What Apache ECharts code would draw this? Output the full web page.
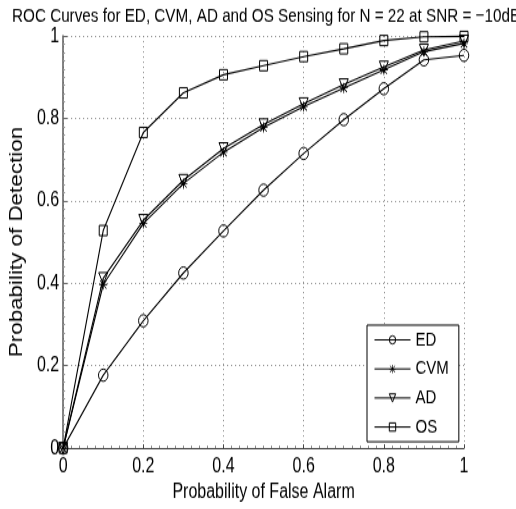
<!DOCTYPE html>
<html>
<head>
<meta charset="utf-8">
<script src="https://cdn.jsdelivr.net/npm/echarts@6/dist/echarts.min.js"></script>
<style>
html,body{margin:0;padding:0;background:#fff;overflow:hidden}
#wrap{width:516px;height:509px;overflow:hidden;position:relative}
#c{width:516px;height:397.66px;transform:scale(1,1.28);transform-origin:0 0}
</style>
</head>
<body>
<div id="wrap"><div id="c"></div></div>
<script>
var pfa = [0, 0.1, 0.2, 0.3, 0.4, 0.5, 0.6, 0.7, 0.8, 0.9, 1.0];
var edPd  = [0, 0.177, 0.309, 0.425, 0.527, 0.626, 0.715, 0.797, 0.872, 0.942, 0.953];
var cvmPd = [0, 0.397, 0.545, 0.642, 0.718, 0.778, 0.829, 0.874, 0.918, 0.962, 0.982];
var adPd  = [0, 0.412, 0.553, 0.650, 0.727, 0.785, 0.836, 0.882, 0.925, 0.966, 0.988];
var osPd  = [0, 0.528, 0.766, 0.862, 0.906, 0.928, 0.950, 0.969, 0.989, 0.998, 0.999];
var seriesNames = ['ED', 'CVM', 'AD', 'OS'];
var titleText = 'ROC Curves for ED, CVM, AD and OS Sensing for N = 22 at SNR = \u221210dB';
var xName = 'Probability of False Alarm';
var yName = 'Probability of Detection';

function pairs(ys){ return ys.map(function(y,i){ return [pfa[i], y]; }); }
var FONT = '"Liberation Sans", Arial, sans-serif';
var star = 'path://M4.5 0 L5.5 0 L5.5 10 L4.5 10 Z M0 4.5 L10 4.5 L10 5.5 L0 5.5 Z M1.35 0.65 L9.35 8.65 L8.65 9.35 L0.65 1.35 Z M8.65 0.65 L9.35 1.35 L1.35 9.35 L0.65 8.65 Z';

function mk(name, ys, symbol, size, filled, rotate){
  return {
    name: name, type: 'line', data: pairs(ys),
    symbol: symbol, symbolSize: size, symbolRotate: rotate || 0,
    showAllSymbol: true, clip: false,
    lineStyle: {color: '#000', width: 1.1},
    itemStyle: filled ? {color: '#000', borderWidth: 0} : {color: 'rgba(255,255,255,0)', borderColor: '#000', borderWidth: 1},
    emphasis: {disabled: true}, animation: false, z: 3
  };
}

var chart = echarts.init(document.getElementById('c'), null, {renderer: 'canvas'});
chart.setOption({
  animation: false,
  backgroundColor: '#fff',
  title: {text: titleText, left: 7, top: 0, textStyle: {fontFamily: FONT, fontSize: 15.25, fontWeight: 'normal', color: '#000'}},
  grid: {left: 60, right: 52, top: 28.1, bottom: 46.1, containLabel: false},
  xAxis: {
    type: 'value', min: 0, max: 1, interval: 0.2,
    name: xName, nameLocation: 'middle', nameGap: 23,
    nameTextStyle: {fontFamily: FONT, fontSize: 16, color: '#000'},
    axisLine: {show: true, lineStyle: {color: '#444', width: 1.1}},
    axisTick: {show: true, inside: true, length: 3, lineStyle: {color: '#444'}},
    minorTick: {show: true, splitNumber: 10, length: 2, lineStyle: {color: '#888'}},
    axisLabel: {fontFamily: FONT, fontSize: 16, color: '#000', margin: 6, formatter: function(v){ return String(+v.toFixed(1)); }},
    splitLine: {show: true, lineStyle: {color: '#888', type: [1, 3], width: 1}}
  },
  yAxis: {
    type: 'value', min: 0, max: 1, interval: 0.2,
    name: yName, nameLocation: 'middle', nameGap: 26, nameRotate: 90,
    nameTextStyle: {fontFamily: FONT, fontSize: 17.5, color: '#000'},
    axisLine: {show: true, lineStyle: {color: '#666', width: 1.6}},
    axisTick: {show: true, inside: true, length: 4, lineStyle: {color: '#666'}},
    minorTick: {show: true, splitNumber: 10, length: 2, lineStyle: {color: '#999'}},
    axisLabel: {fontFamily: FONT, fontSize: 16, color: '#000', margin: 4, formatter: function(v){ return String(+v.toFixed(1)); }},
    splitLine: {show: true, lineStyle: {color: '#888', type: [1, 3], width: 1}}
  },
  legend: {
    orient: 'vertical', left: 367, top: 254,
    backgroundColor: '#fff', borderColor: '#000', borderWidth: 1,
    padding: [4, 10, 4, 7], itemGap: 7.7, itemWidth: 36, itemHeight: 8,
    textStyle: {fontFamily: FONT, fontSize: 15, color: '#000'},
    lineStyle: {width: 1, color: '#000'},
    itemStyle: {borderWidth: 1},
    data: seriesNames
  },
  series: [
    mk(seriesNames[0], edPd, 'circle', 9.5, false),
    mk(seriesNames[1], cvmPd, star, 8, true),
    mk(seriesNames[2], adPd, 'triangle', 9, false, 180),
    mk(seriesNames[3], osPd, 'rect', 8, false)
  ]
});
</script>
</body>
</html>
